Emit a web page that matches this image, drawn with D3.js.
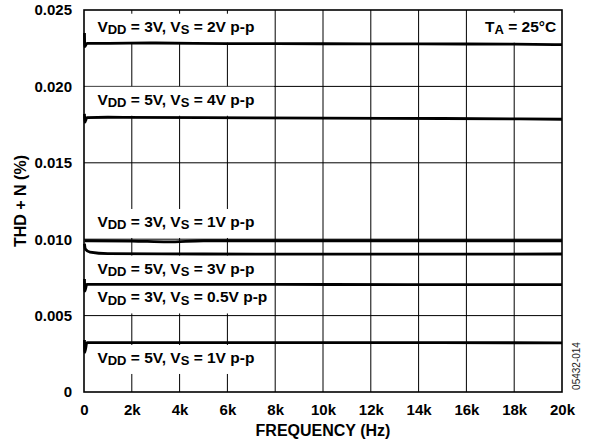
<!DOCTYPE html>
<html><head><meta charset="utf-8">
<script src="https://cdn.jsdelivr.net/npm/d3@7"></script>
<style>
body{margin:0;background:#fff;}
text{font-family:"Liberation Sans",Arial,Helvetica,sans-serif;}
</style></head>
<body><svg id="c" width="591" height="444"></svg>
<script>
// ---- data ----
const xTicks = [0,2000,4000,6000,8000,10000,12000,14000,16000,18000,20000];
const xTickLabels = ["0","2k","4k","6k","8k","10k","12k","14k","16k","18k","20k"];
const yTicks = [0,0.005,0.010,0.015,0.020,0.025];
const yTickLabels = ["0","0.005","0.010","0.015","0.020","0.025"];

const s1 = [[20,0.0235],[32,0.0226],[120,0.02282],[800,0.02282],[3000,0.02284],[6000,0.0228],[10000,0.02279],[14000,0.02278],[18000,0.02277],[20000,0.02273]];
const s2 = [[20,0.0182],[32,0.01765],[120,0.01795],[1000,0.01798],[5000,0.01795],[10000,0.01792],[15000,0.0179],[20000,0.01785]];
const s3 = [[20,0.0099],[200,0.0099],[2000,0.00988],[3500,0.00982],[5000,0.0099],[10000,0.0099],[20000,0.0099]];
const s4 = [[20,0.0097],[60,0.00935],[250,0.00915],[1000,0.00905],[5000,0.00903],[10000,0.00902],[20000,0.00903]];
const s5 = [[20,0.0074],[32,0.0066],[120,0.00705],[2000,0.00705],[8000,0.00704],[14000,0.00703],[20000,0.00703]];
const s6 = [[20,0.0034],[32,0.0026],[120,0.00323],[3000,0.00323],[10000,0.00323],[20000,0.00322]];
const series = [s1,s2,s3,s4,s5,s6];

// labels: [vdd, vs, anchor freq, anchor value]
const labels = [
  ["3V","2V p-p",560,0.02358],
  ["5V","4V p-p",560,0.01880],
  ["3V","1V p-p",560,0.01080],
  ["5V","3V p-p",560,0.00775],
  ["3V","0.5V p-p",560,0.00586],
  ["5V","1V p-p",560,0.00190]
];
const taLabel = ["T","A"," = 25°C"];

// ---- layout ----
const svg = d3.select("#c");
const L=84,R=562,T=10,B=392;
const x = d3.scaleLinear().domain([0,20000]).range([L,R]);
const y = d3.scaleLinear().domain([0,0.025]).range([B,T]);

// grid
const g = svg.append("g");
g.selectAll("line.vx").data(xTicks.slice(1,-1)).enter().append("line")
 .attr("x1",d=>x(d)).attr("x2",d=>x(d)).attr("y1",T).attr("y2",B)
 .attr("stroke","#000").attr("stroke-width",1);
g.selectAll("line.hy").data(yTicks.slice(1,-1)).enter().append("line")
 .attr("x1",L).attr("x2",R).attr("y1",d=>y(d)).attr("y2",d=>y(d))
 .attr("stroke","#000").attr("stroke-width",1);

// label boxes + text
function subText(sel, parts){
  parts.forEach(p=>{
    const t = sel.append("tspan").text(p[0]);
    if(p[1]) t.attr("font-size",13).attr("dy",2.5);
    else if(p[2]) t.attr("dy",-2.5);
  });
}
const lab = svg.append("g");
labels.forEach(l=>{
  const bx = x(l[2]), by = y(l[3]);
  const rect = lab.append("rect").attr("fill","#fff");
  const t = lab.append("text").attr("x",bx).attr("y",by)
    .attr("font-size",15.5).attr("font-weight","bold").attr("fill","#000");
  subText(t,[["V"],["DD",1],[" = "+l[0]+", V",0,1],["S",1],[" = "+l[1],0,1]]);
  rect.attr("x",L+1).attr("width",273-L).attr("y",by-18).attr("height",29);
});
{
  const bx = x(19760), by = y(0.02358);
  const rect = lab.append("rect").attr("fill","#fff");
  const t = lab.append("text").attr("x",bx).attr("y",by).attr("text-anchor","end")
    .attr("font-size",15.5).attr("font-weight","bold").attr("fill","#000");
  subText(t,[[taLabel[0]],[taLabel[1],1],[taLabel[2],0,1]]);
  const bb = t.node().getBBox();
  rect.attr("x",bb.x-6).attr("width",R-1-(bb.x-6)).attr("y",by-19).attr("height",30);
}

// data lines
const line = d3.line().x(d=>x(d[0])).y(d=>y(d[1])).curve(d3.curveMonotoneX);
svg.append("g").selectAll("path").data(series).enter().append("path")
 .attr("d",line).attr("fill","none").attr("stroke","#000").attr("stroke-width",2.8)
 .attr("stroke-linejoin","round");

// frame
svg.append("rect").attr("x",L).attr("y",T).attr("width",R-L).attr("height",B-T)
 .attr("fill","none").attr("stroke","#000").attr("stroke-width",1.6);

// axes labels
const xa = svg.append("g").attr("transform",`translate(0,${B})`)
 .call(d3.axisBottom(x).tickValues(xTicks).tickFormat((d,i)=>xTickLabels[i]).tickSize(0).tickPadding(12));
xa.select(".domain").remove();
xa.selectAll("text").attr("font-size",15).attr("font-weight","bold").attr("fill","#000")
 .attr("font-family","Liberation Sans, Arial, sans-serif");
const ya = svg.append("g").attr("transform",`translate(${L},0)`)
 .call(d3.axisLeft(y).tickValues(yTicks).tickFormat((d,i)=>yTickLabels[i]).tickSize(0).tickPadding(12));
ya.select(".domain").remove();
ya.selectAll("text").attr("font-size",15).attr("font-weight","bold").attr("fill","#000")
 .attr("font-family","Liberation Sans, Arial, sans-serif");

svg.append("text").attr("x",(L+R)/2).attr("y",436).attr("text-anchor","middle")
 .attr("font-size",16).attr("font-weight","bold").text("FREQUENCY (Hz)");
svg.append("text").attr("transform",`translate(26,${(T+B)/2}) rotate(-90)`).attr("text-anchor","middle")
 .attr("font-size",16).attr("font-weight","bold").text("THD + N (%)");
svg.append("text").attr("transform",`translate(580,366) rotate(-90)`).attr("text-anchor","middle")
 .attr("font-size",10).attr("fill","#222").text("05432-014");
</script></body></html>
